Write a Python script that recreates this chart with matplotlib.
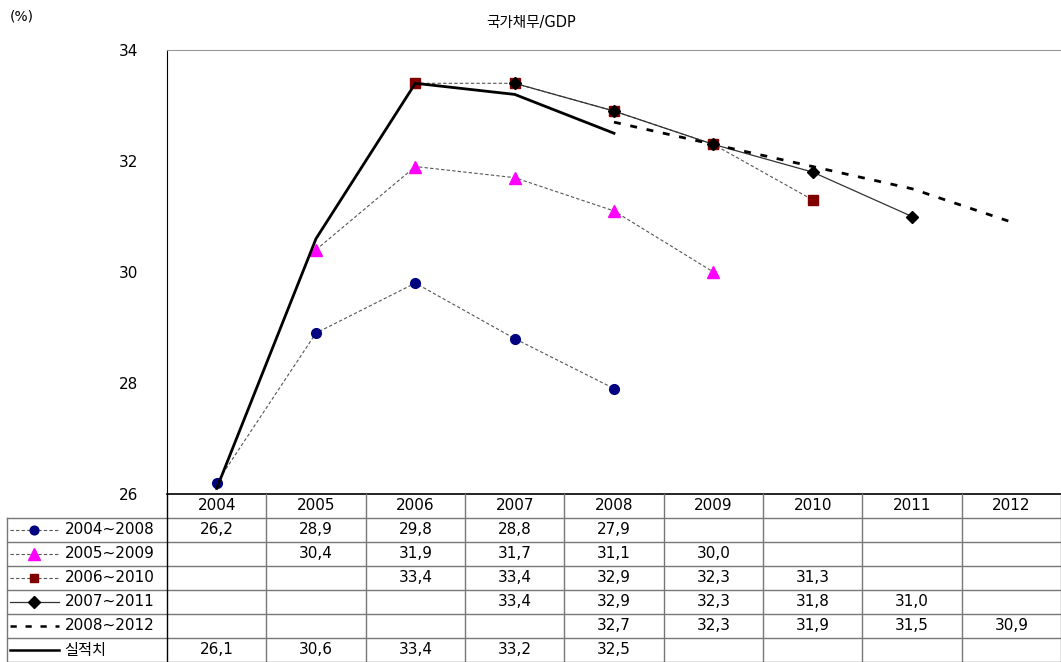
import matplotlib
matplotlib.use('Agg')
import matplotlib.pyplot as plt

plt.rcParams['font.family'] = ['DejaVu Sans', 'Noto Sans CJK KR']

years = ['2004', '2005', '2006', '2007', '2008', '2009', '2010', '2011', '2012']
names = ['2004~2008', '2005~2009', '2006~2010', '2007~2011', '2008~2012', '실적치']
starts = [0, 1, 2, 3, 4, 0]
s0408 = [26.2, 28.9, 29.8, 28.8, 27.9]
s0509 = [30.4, 31.9, 31.7, 31.1, 30.0]
s0610 = [33.4, 33.4, 32.9, 32.3, 31.3]
s0711 = [33.4, 32.9, 32.3, 31.8, 31.0]
s0812 = [32.7, 32.3, 31.9, 31.5, 30.9]
actual = [26.1, 30.6, 33.4, 33.2, 32.5]
series = [s0408, s0509, s0610, s0711, s0812, actual]

styles = [
    dict(color='#555555', lw=0.8, ls=(0, (3, 2)), marker='o', ms=7, mfc='#000080', mec='#000080'),
    dict(color='#555555', lw=0.8, ls=(0, (3, 2)), marker='^', ms=9, mfc='#ff00ff', mec='#ff00ff'),
    dict(color='#555555', lw=0.8, ls=(0, (3, 2)), marker='s', ms=7, mfc='#800000', mec='#800000'),
    dict(color='#333333', lw=0.9, ls='-', marker='D', ms=6.5, mfc='black', mec='black'),
    dict(color='black', lw=2.0, ls=(0, (2.5, 3.5)), marker=None),
    dict(color='black', lw=2.0, ls='-', marker=None),
]

W, H = 1061, 662
fig = plt.figure(figsize=(W / 100, H / 100), dpi=100)

left, right, top, bot = 167, 1061, 50, 494
ax = fig.add_axes([left / W, (H - bot) / H, (right - left) / W, (bot - top) / H])
ax.set_xlim(-0.5, 8.5)
ax.set_ylim(26, 34)
ax.set_yticks([26, 28, 30, 32, 34])
ax.tick_params(axis='y', length=0, pad=21, labelsize=11)
ax.set_xticks([])
ax.spines['right'].set_visible(False)
ax.spines['bottom'].set_visible(False)
ax.spines['top'].set_color('#999999')
ax.spines['left'].set_color('black')

# dashed series first, actual on top
for i in [4, 5, 0, 1, 2, 3]:
    xs = list(range(starts[i], starts[i] + len(series[i])))
    ax.plot(xs, series[i], clip_on=False, zorder=3 + i, **styles[i])

fig.text(531 / W, 1 - 22 / H, '국가채무/GDP', ha='center', va='center', fontsize=10.5)
fig.text(10 / W, 1 - 16 / H, '(%)', ha='left', va='center', fontsize=10)

# data table
tl = 7
unit = (right - left) / 9
x0 = -0.5 - (left - tl) / unit
tab = fig.add_axes([tl / W, 0, (right - tl) / W, (H - bot) / H])
tab.set_xlim(x0, 8.5)
tab.set_ylim(7, 0)
tab.axis('off')

grid = '#777777'
for j, y in enumerate(years):
    tab.text(j, 0.5, y, ha='center', va='center', fontsize=11)
tab.plot([-0.5, 8.5], [0, 0], color='black', lw=1.2, clip_on=False)
for r in range(1, 8):
    tab.plot([x0, 8.5], [r, r], color=grid, lw=1, clip_on=False)
for j in range(10):
    tab.plot([j - 0.5, j - 0.5], [0, 7], color='black' if j == 0 else grid, lw=1, clip_on=False)
tab.plot([x0, x0], [1, 7], color=grid, lw=1, clip_on=False)

for i, name in enumerate(names):
    r = i + 1.5
    st = styles[i]
    lx = [x0 + 0.03, x0 + 0.52]
    tab.plot(lx, [r, r], color=st['color'], lw=st['lw'] if i < 4 else 1.8,
             ls=st['ls'], clip_on=False)
    if st['marker']:
        tab.plot([sum(lx) / 2], [r], ls='none', marker=st['marker'], ms=st['ms'] * 0.9,
                 mfc=st['mfc'], mec=st['mec'], clip_on=False)
    tab.text(x0 + 0.58, r, name, ha='left', va='center', fontsize=11)
    for k, v in enumerate(series[i]):
        tab.text(starts[i] + k, r, f'{v:.1f}'.replace('.', ','), ha='center', va='center', fontsize=11)

fig.savefig('out.png', dpi=100)
